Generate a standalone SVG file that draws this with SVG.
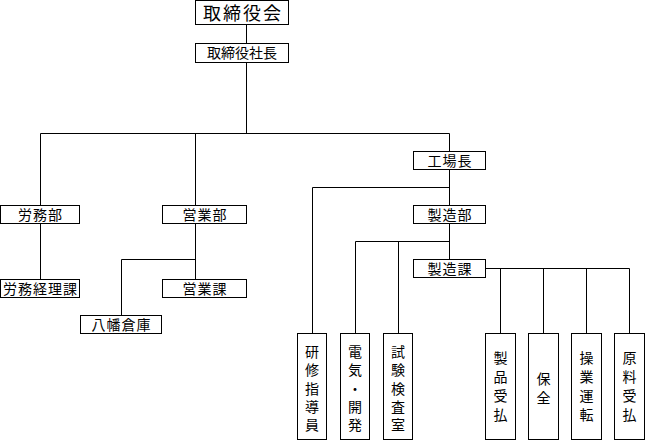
<svg xmlns="http://www.w3.org/2000/svg" width="645" height="440" viewBox="0 0 645 440">
<style>
  .box { fill: #fff; stroke: #000; stroke-width: 1; }
  .ln { fill: none; stroke: #000; stroke-width: 1; }
  text { font-family: "Noto Sans CJK JP", "Noto Sans", sans-serif; font-size: 14px; fill: #000; text-anchor: middle; }
  .h { letter-spacing: 1px; }
  .big { font-size: 18px; letter-spacing: 2px; }
</style>
<rect width="645" height="440" fill="#fff"/>
<g id="connectors">
  <path class="ln" d="M246.5 25 V43.5 M246.5 62.5 V133.5 M40.5 133.5 H449.5 M40.5 133.5 V205.5 M195.5 133.5 V205.5 M449.5 133.5 V151.5"/>
  <path class="ln" d="M40.5 223.5 V279.5 M195.5 223.5 V279.5 M121.5 259.5 H195.5 M121.5 259.5 V315.5"/>
  <path class="ln" d="M449.5 169.5 V205.5 M312.5 187.5 H449.5 M312.5 187.5 V333.5 M449.5 223.5 V259.5 M355.5 241.5 H449.5 M355.5 241.5 V333.5 M398.5 241.5 V333.5"/>
  <path class="ln" d="M485.5 268.5 H629.5 M500.5 268.5 V333.5 M543.5 268.5 V333.5 M586.5 268.5 V333.5 M629.5 268.5 V333.5"/>
</g>
<g id="n-board"><rect class="box" x="195.5" y="0.5" width="93" height="24"/><text class="big" x="243" y="19.5">取締役会</text></g>
<g id="n-president"><rect class="box" x="195.5" y="43.5" width="93" height="19"/><text x="242" y="58">取締役社長</text></g>
<g id="n-roumubu"><rect class="box" x="0.5" y="205.5" width="79" height="18"/><text class="h" x="40.5" y="219.5">労務部</text></g>
<g id="n-eigyobu"><rect class="box" x="162.5" y="205.5" width="84" height="18"/><text class="h" x="205" y="219.5">営業部</text></g>
<g id="n-roumukeiri"><rect class="box" x="0.5" y="279.5" width="79" height="18"/><text class="h" x="40.5" y="293.5">労務経理課</text></g>
<g id="n-eigyoka"><rect class="box" x="162.5" y="279.5" width="84" height="18"/><text class="h" x="205" y="293.5">営業課</text></g>
<g id="n-yawata"><rect class="box" x="80.5" y="315.5" width="81" height="18"/><text class="h" x="121.5" y="329.5">八幡倉庫</text></g>
<g id="n-kojocho"><rect class="box" x="413.5" y="151.5" width="72" height="18"/><text class="h" x="450" y="165.5">工場長</text></g>
<g id="n-seizobu"><rect class="box" x="413.5" y="205.5" width="72" height="18"/><text class="h" x="450" y="219.5">製造部</text></g>
<g id="n-seizoka"><rect class="box" x="413.5" y="259.5" width="72" height="18"/><text class="h" x="450" y="273.5">製造課</text></g>
<g id="n-kenshu"><rect class="box" x="297.5" y="333.5" width="29" height="106"/>
  <text><tspan x="312" y="357">研</tspan><tspan x="312" y="375.3">修</tspan><tspan x="312" y="393.6">指</tspan><tspan x="312" y="412">導</tspan><tspan x="312" y="430.2">員</tspan></text></g>
<g id="n-denki"><rect class="box" x="340.5" y="333.5" width="29" height="106"/>
  <text><tspan x="355" y="357">電</tspan><tspan x="355" y="375.3">気</tspan><tspan x="355" y="393.6">・</tspan><tspan x="355" y="412">開</tspan><tspan x="355" y="430.2">発</tspan></text></g>
<g id="n-shiken"><rect class="box" x="383.5" y="333.5" width="29" height="106"/>
  <text><tspan x="398" y="357">試</tspan><tspan x="398" y="375.3">験</tspan><tspan x="398" y="393.6">検</tspan><tspan x="398" y="412">査</tspan><tspan x="398" y="430.2">室</tspan></text></g>
<g id="n-seihin"><rect class="box" x="485.5" y="333.5" width="30" height="106"/>
  <text><tspan x="500.5" y="363">製</tspan><tspan x="500.5" y="382">品</tspan><tspan x="500.5" y="401">受</tspan><tspan x="500.5" y="420">払</tspan></text></g>
<g id="n-hozen"><rect class="box" x="528.5" y="333.5" width="30" height="106"/>
  <text><tspan x="543.5" y="384">保</tspan><tspan x="543.5" y="403">全</tspan></text></g>
<g id="n-sogyo"><rect class="box" x="571.5" y="333.5" width="30" height="106"/>
  <text><tspan x="586.5" y="363">操</tspan><tspan x="586.5" y="382">業</tspan><tspan x="586.5" y="401">運</tspan><tspan x="586.5" y="420">転</tspan></text></g>
<g id="n-genryo"><rect class="box" x="614.5" y="333.5" width="30" height="106"/>
  <text><tspan x="629.5" y="363">原</tspan><tspan x="629.5" y="382">料</tspan><tspan x="629.5" y="401">受</tspan><tspan x="629.5" y="420">払</tspan></text></g>
</svg>
